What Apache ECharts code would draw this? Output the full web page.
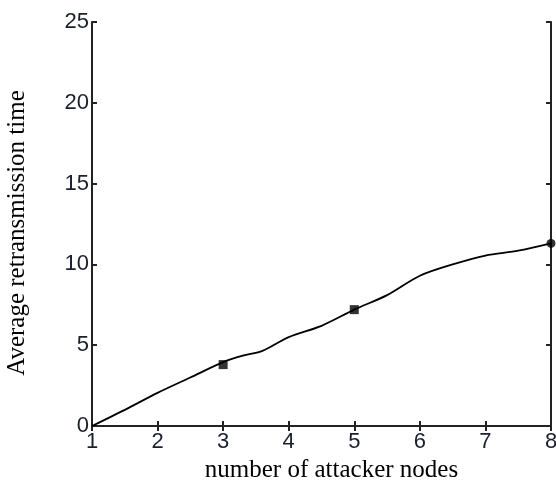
<!DOCTYPE html>
<html>
<head>
<meta charset="utf-8">
<script src="https://cdn.jsdelivr.net/npm/echarts@6/dist/echarts.min.js"></script>
<style>
  html, body { margin: 0; padding: 0; background: #fff; }
  #main { width: 556px; height: 488px; }
</style>
</head>
<body>
<div id="main"></div>
<script>
// curve samples
const curveX = [1, 1.5, 2, 2.5, 3, 3.3, 3.6, 4, 4.5, 5, 5.5, 6, 6.5, 7, 7.5, 8];
const curveY = [0, 1.0, 2.05, 3.0, 3.95, 4.35, 4.65, 5.5, 6.2, 7.2, 8.1, 9.3, 10.0, 10.55, 10.85, 11.3];
// marked points
const squareX = [3, 5];
const squareY = [3.8, 7.2];
const dotX = [8];
const dotY = [11.3];
const xTicks = [1, 2, 3, 4, 5, 6, 7, 8];
const yTicks = [0, 5, 10, 15, 20, 25];

const pairs = (xs, ys) => xs.map((x, i) => [x, ys[i]]);

let myChart = echarts.init(document.getElementById('main'));

const tickFont = { fontFamily: 'Liberation Sans, Arial, sans-serif', fontSize: 22, color: '#1a1f2e' };
const titleFont = { fontFamily: 'Liberation Serif, Times New Roman, serif', fontSize: 25, color: '#000' };
const lineStyle = { color: '#222', width: 2 };

myChart.setOption({
    backgroundColor: '#fff',
    animation: false,
    grid: { left: 92, right: 5, top: 22, bottom: 62, outerBoundsMode: 'none' },
    xAxis: [{
        type: 'value', min: 1, max: 8, interval: 1,
        axisLine: { lineStyle: lineStyle },
        axisTick: { inside: true, length: 5, lineStyle: lineStyle },
        axisLabel: Object.assign({ margin: 5, formatter: v => xTicks.includes(v) ? String(v) : '' }, tickFont),
        splitLine: { show: false },
        name: 'number of attacker nodes',
        nameLocation: 'middle',
        nameGap: 28,
        nameTextStyle: Object.assign({ padding: [0, 0, 0, 20] }, titleFont)
    }, {
        type: 'value', min: 1, max: 8, interval: 1, position: 'top',
        axisLine: { lineStyle: lineStyle },
        axisTick: { inside: true, length: 5, lineStyle: lineStyle },
        axisLabel: { show: false },
        splitLine: { show: false }
    }],
    yAxis: [{
        type: 'value', min: 0, max: 25, interval: 5,
        axisLine: { show: true, lineStyle: lineStyle },
        axisTick: { show: true, inside: true, length: 5, lineStyle: lineStyle },
        axisLabel: Object.assign({ margin: 3, formatter: v => yTicks.includes(v) ? String(v) : '' }, tickFont),
        splitLine: { show: false },
        name: 'Average retransmission time',
        nameLocation: 'middle',
        nameGap: 62,
        nameTextStyle: Object.assign({ padding: [0, 18, 0, 0] }, titleFont)
    }, {
        type: 'value', min: 0, max: 25, interval: 5, position: 'right',
        axisLine: { show: true, lineStyle: lineStyle },
        axisTick: { show: true, inside: true, length: 5, lineStyle: lineStyle },
        axisLabel: { show: false },
        splitLine: { show: false }
    }],
    series: [{
        type: 'line',
        data: pairs(curveX, curveY),
        smooth: 0.3,
        showSymbol: false,
        lineStyle: { color: '#000', width: 1.8 }
    }, {
        type: 'scatter',
        data: pairs(squareX, squareY),
        symbol: 'rect',
        symbolSize: 9,
        itemStyle: { color: '#000' }
    }, {
        type: 'scatter',
        data: pairs(dotX, dotY),
        symbol: 'circle',
        symbolSize: 9,
        itemStyle: { color: '#000' }
    }]
});
</script>
</body>
</html>
